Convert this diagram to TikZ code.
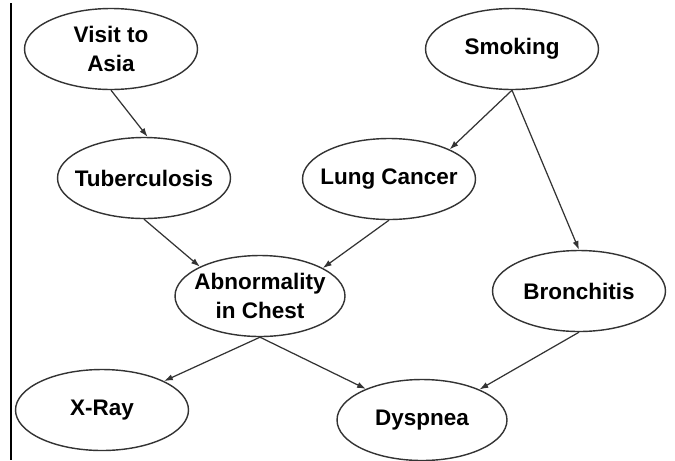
\documentclass[tikz,border=0pt]{standalone}
\usepackage{fontspec}
\setmainfont{Liberation Sans}
\usetikzlibrary{arrows.meta,shapes.geometric}
\definecolor{edgeGray}{RGB}{51,51,51}
\tikzset{
  varnode/.style={ellipse,draw=edgeGray,line width=0.8pt,fill=white,inner ysep=0pt,inner xsep=-1cm,
    minimum width=3.46cm,minimum height=1.62cm,align=center,
    font=\bfseries\fontsize{12.8}{16.2}\selectfont},
  link/.style={draw=edgeGray,line width=0.7pt,-{Latex[length=5pt,width=3.5pt]}}
}
\begin{document}
\begin{tikzpicture}[x=0.02cm,y=-0.02cm]
\path[use as bounding box] (0,0) rectangle (675,460);
\draw[line width=1.2pt] (11,3) -- (11,460);

% causes
\node[varnode] (visit) at (111,49) {Visit to\\Asia};
\node[varnode] (smoking) at (512,49) {Smoking};

% diseases
\node[varnode] (tub) at (144,178) {Tuberculosis};
\node[varnode] (lung) at (389,179) {Lung Cancer};
\node[varnode,minimum width=3.4cm] (abn) at (260,296) {Abnormality\\in Chest};
\node[varnode] (bronch) at (579,291) {Bronchitis};

% symptoms
\node[varnode] (xray) at (102,410) {X-Ray};
\node[varnode,minimum width=3.4cm] (dysp) at (422,420) {Dyspnea};

\draw[link] (visit.south) -- (tub.85);
\draw[link] (smoking.south) -- (lung.26);
\draw[link] (smoking.south) -- (bronch.north);
\draw[link] (tub.south) -- (abn.154);
\draw[link] (lung.south) -- (abn.24);
\draw[link] (abn.south) -- (xray.25);
\draw[link] (abn.south) -- (dysp.151);
\draw[link] (bronch.south) -- (dysp.28);
\end{tikzpicture}
\end{document}
